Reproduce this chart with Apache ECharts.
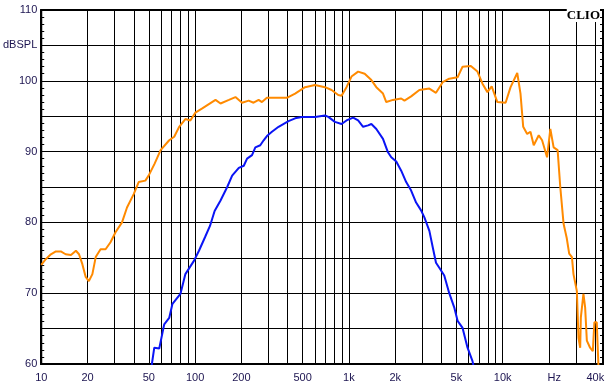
<!DOCTYPE html>
<html>
<head>
<meta charset="utf-8">
<script src="https://cdn.jsdelivr.net/npm/echarts@6/dist/echarts.min.js"></script>
<style>
  html, body { margin: 0; padding: 0; background: #fff; }
  #chart { width: 611px; height: 391px; }
</style>
</head>
<body>
<div id="chart"></div>
<script>
// frequency grid lines (Hz)
var gridHz = [10, 20, 30, 40, 50, 60, 70, 80, 90,
    100, 200, 300, 400, 500, 600, 700, 800, 900,
    1000, 2000, 3000, 4000, 5000, 6000, 7000, 8000, 9000,
    10000, 20000, 30000, 40000];
// tick labels on the frequency axis
var labelHz = [10, 20, 50, 100, 200, 500, 1000, 2000, 5000, 10000, 21600, 40000];
var labelText = ['10', '20', '50', '100', '200', '500', '1k', '2k', '5k', '10k', 'Hz', '40k'];

// orange curve
var orangeHz = [10, 10.7, 11.55, 12.45, 13.4, 14.4, 15.6, 16.8, 17.6, 18.5, 19.45, 20.4, 21.5, 22.6,
    24.3, 26.2, 28.2, 30.4, 33.5, 36.1, 39.9, 43, 47.5, 49.9, 54.6, 59.7, 67.9, 73.2, 78.8, 86.5,
    93.2, 100.5, 111.4, 135.8, 146.4, 166, 183, 202, 223, 240, 259, 272, 293, 395, 447, 519, 602,
    699, 772, 853, 896, 965, 1040, 1148, 1267, 1400, 1508, 1666, 1750, 1933, 2188, 2298, 2539,
    2872, 2946, 3336, 3684, 4071, 4491, 5089, 5483, 6202, 6851, 7386, 7954, 8477, 9228, 10440,
    11250, 12430, 13050, 13590, 14420, 15150, 15910, 17150, 18030, 19420, 20400, 21430, 22750,
    23670, 24870, 26070, 27050, 28180, 28840, 30340, 31090, 31890, 32210, 33480, 34340, 35230,
    36990, 38520, 39450, 40860, 41870, 42500];
var orangeDb = [74.0, 74.8, 75.5, 75.9, 75.9, 75.5, 75.4, 76.0, 75.5, 74.1, 72.3, 71.7, 72.7, 75.1,
    76.2, 76.2, 77.2, 78.6, 80.0, 82.1, 84.0, 85.7, 85.9, 86.6, 88.3, 90.2, 91.6, 92.1, 93.5, 94.6,
    94.4, 95.5, 96.1, 97.3, 96.8, 97.3, 97.7, 96.9, 97.2, 96.9, 97.3, 97.0, 97.6, 97.6, 98.2, 99.1, 99.4,
    99.1, 98.7, 98.0, 97.9, 99.1, 100.6, 101.3, 101.0, 100.1, 99.1, 98.2, 97.0, 97.3, 97.5, 97.2, 97.8,
    98.7, 98.9, 98.9, 98.3, 99.8, 100.3, 100.5, 102.0, 102.1, 101.3, 99.6, 98.4, 99.2, 97.0, 96.9,
    99.1, 101.1, 98.2, 93.5, 92.5, 92.8, 90.9, 92.3, 91.6, 89.2, 93.2, 90.6, 90.2,
    85.0, 79.8, 77.8, 75.6, 75.1, 72.7, 70.3, 63.7, 62.3, 66.6, 69.9, 68.0, 63.3,
    62.3, 61.8, 65.9, 65.9, 60.0, 57.0];

// blue curve
var blueHz = [51.8, 52.4, 54.3, 58.5, 63, 67.9, 71.3, 80.3, 86.5, 98.5, 106, 116, 125, 134, 146.4,
    161.8, 174.2, 192.5, 207.4, 217.8, 234.6, 246.5, 265.4, 279.2, 293.2, 316, 349, 405, 447, 494,
    602, 699, 735, 811, 896, 965, 1066, 1148, 1237, 1333, 1400, 1508, 1666, 1795, 1886, 2032, 2188,
    2357, 2539, 2735, 2946, 3095, 3336, 3508, 3684, 3870, 4168, 4491, 4838, 5089, 5483, 5906, 6362, 6490];
var blueDb = [59.0, 60.0, 62.3, 62.2, 65.6, 66.5, 68.5, 69.9, 72.7, 74.6, 76.0, 77.9, 79.5, 81.6, 83.1,
    85.0, 86.6, 87.7, 88.0, 89.0, 89.5, 90.6, 90.9, 91.6, 92.2, 92.8, 93.5, 94.3, 94.7, 94.9,
    94.9, 95.1, 94.9, 94.2, 93.9, 94.4, 94.8, 94.4, 93.5, 93.7, 93.9, 93.2, 91.8, 89.9, 89.2, 88.6, 87.3,
    85.7, 84.5, 82.8, 81.7, 80.7, 78.8, 76.5, 74.3, 73.6, 72.5, 70.0, 68.0, 66.1, 65.1, 62.3, 60.4, 59.5];

var dbMin = 60, dbMax = 110, dbStep = 5;
var hzMin = 10, hzMax = 44870;

function toPoints(hz, db) {
    return hz.map(function (f, i) { return [Math.log10(f), db[i]]; });
}
function log10List(list) {
    return list.map(function (f) { return Math.log10(f); });
}

var labelFont = { color: '#1c1450', fontSize: 11, fontFamily: 'Liberation Sans' };

var mychart = echarts.init(document.getElementById('chart'));
var option = {
    animation: false,
    backgroundColor: '#fff',
    grid: {
        left: 38, right: 8, top: 10, bottom: 27,
        show: true, borderColor: '#000', borderWidth: 2
    },
    xAxis: {
        type: 'value',
        min: Math.log10(hzMin),
        max: Math.log10(hzMax),
        axisLine: { show: true, lineStyle: { color: '#000', width: 2 } },
        axisTick: { show: false, customValues: log10List(gridHz) },
        splitLine: { show: true, lineStyle: { color: '#000', width: 1 } },
        axisLabel: Object.assign({
            margin: 8,
            customValues: log10List(labelHz),
            formatter: function (v) {
                for (var i = 0; i < labelHz.length; i++) {
                    if (Math.abs(Math.log10(labelHz[i]) - v) < 1e-6) return labelText[i];
                }
                return '';
            }
        }, labelFont)
    },
    yAxis: [{
        type: 'value',
        min: dbMin, max: dbMax, interval: dbStep,
        axisLine: { show: true, lineStyle: { color: '#000', width: 2 } },
        axisTick: { show: true, inside: true, length: 3, lineStyle: { color: '#000' } },
        minorTick: { show: true, splitNumber: 5, length: 3, lineStyle: { color: '#000' } },
        splitLine: { show: true, lineStyle: { color: '#000', width: 1 } },
        axisLabel: Object.assign({
            margin: 4,
            formatter: function (v) {
                if (v === 105) return 'dBSPL';
                return v % 10 === 0 ? String(v) : '';
            }
        }, labelFont)
    }, {
        type: 'value',
        position: 'right',
        min: dbMin, max: dbMax, interval: dbStep,
        axisLine: { show: true, lineStyle: { color: '#000', width: 2 } },
        axisTick: { show: true, inside: true, length: 3, lineStyle: { color: '#000' } },
        minorTick: { show: true, splitNumber: 5, length: 3, lineStyle: { color: '#000' } },
        splitLine: { show: false },
        axisLabel: { show: false }
    }],
    graphic: [{
        type: 'text',
        right: 11,
        top: 9,
        z: 10,
        style: {
            text: 'CLIO',
            font: 'bold 13px "Liberation Serif"',
            fill: '#000',
            backgroundColor: '#fff'
        }
    }],
    series: [{
        type: 'line',
        data: toPoints(orangeHz, orangeDb),
        showSymbol: false,
        clip: true,
        lineStyle: { color: '#ff8a00', width: 2 },
        z: 3
    }, {
        type: 'line',
        data: toPoints(blueHz, blueDb),
        showSymbol: false,
        clip: true,
        lineStyle: { color: '#0a14f5', width: 2 },
        z: 4
    }]
};
mychart.setOption(option);
</script>
</body>
</html>
